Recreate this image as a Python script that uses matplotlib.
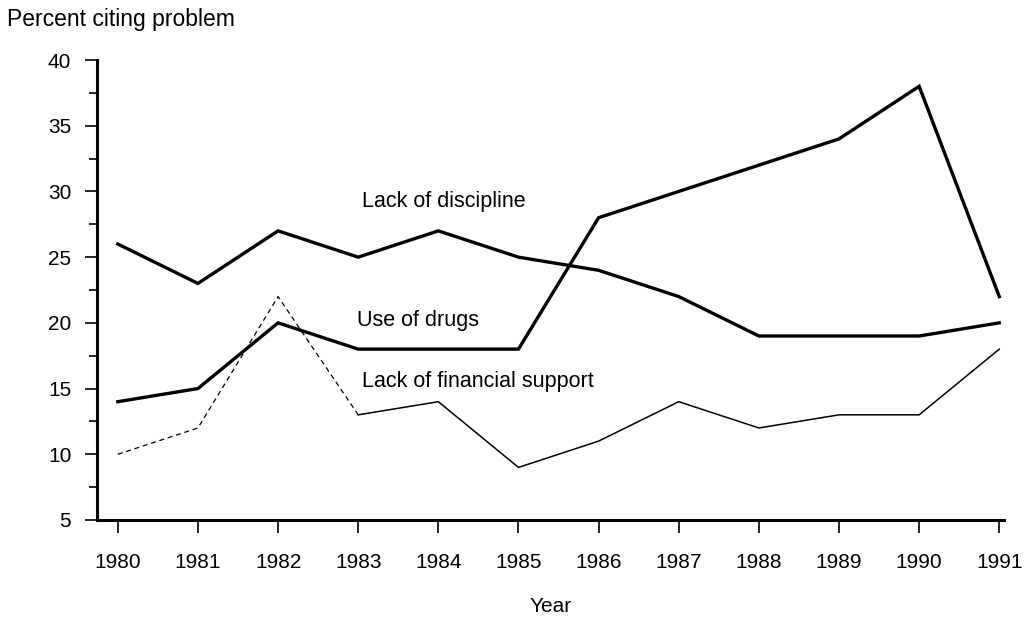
import numpy as np
import matplotlib
matplotlib.use("Agg")
import matplotlib.pyplot as plt
from matplotlib.ticker import MultipleLocator

plt.rcParams['font.family'] = ['Liberation Sans', 'DejaVu Sans']

years = np.arange(1980, 1992)
discipline = [26, 23, 27, 25, 27, 25, 24, 22, 19, 19, 19, 20]
drugs = [14, 15, 20, 18, 18, 18, 28, 30, 32, 34, 38, 22]
financial = [10, 12, 22, 13, 14, 9, 11, 14, 12, 13, 13, 18]

fig = plt.figure(figsize=(10.25, 6.19), dpi=100)
ax = fig.add_axes([0.0946, 0.160, 0.885, 0.743])

ax.plot(years, discipline, color='black', lw=2.4, solid_joinstyle='miter')
ax.plot(years, drugs, color='black', lw=2.4, solid_joinstyle='miter')
# early part of the thin line is faint / broken in the original
ax.plot(years[:4], financial[:4], color='black', lw=0.9, dashes=(4, 3))
ax.plot(years[3:], financial[3:], color='black', lw=1.1)

ax.set_xlim(1979.74, 1991.06)
ax.set_ylim(5, 40)
ax.set_xticks(years)
ax.set_yticks(np.arange(5, 41, 5))
ax.yaxis.set_minor_locator(MultipleLocator(2.5))

for s in ['top', 'right']:
    ax.spines[s].set_visible(False)
ax.spines['left'].set_linewidth(2.2)
ax.spines['bottom'].set_linewidth(2.2)

ax.tick_params(axis='x', direction='out', length=9, width=1.2, labelsize=15, pad=15)
ax.tick_params(axis='y', which='major', direction='out', length=8.5, width=1.2, labelsize=15, pad=10)
ax.tick_params(axis='y', which='minor', direction='out', length=6, width=1.2)

ax.set_xlabel('Year', fontsize=15, labelpad=18)
fig.text(0.007, 0.968, 'Percent citing problem', fontsize=16.5, va='center', ha='left')

ax.text(1983.05, 29.2, 'Lack of discipline', fontsize=15.5, va='center')
ax.text(1982.99, 20.2, 'Use of drugs', fontsize=15.5, va='center')
ax.text(1983.05, 15.5, 'Lack of financial support', fontsize=15.5, va='center')

fig.savefig('out.png', dpi=100)
